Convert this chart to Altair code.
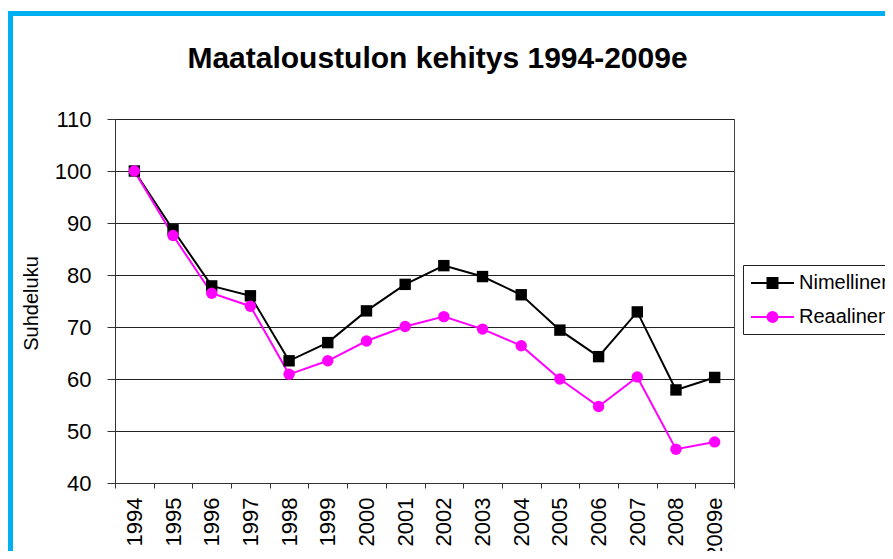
import altair as alt
import pandas as pd

# ---- data ----
years = ["1994", "1995", "1996", "1997", "1998", "1999", "2000", "2001",
         "2002", "2003", "2004", "2005", "2006", "2007", "2008", "2009e"]
nimellinen = [100.0, 88.7, 77.9, 76.0, 63.5, 67.0, 73.1, 78.2,
              81.8, 79.7, 76.2, 69.4, 64.3, 72.9, 57.9, 60.3]
reaalinen = [100.0, 87.6, 76.5, 74.0, 60.9, 63.5, 67.3, 70.1,
             72.0, 69.6, 66.4, 60.0, 54.7, 60.4, 46.5, 47.9]
series_names = ["Nimellinen", "Reaalinen"]
series_colors = ["#000000", "#FF00FF"]
series_shapes = ["square", "circle"]
y_ticks = [40, 50, 60, 70, 80, 90, 100, 110]
title_text = "Maataloustulon kehitys 1994-2009e"
y_title = "Suhdeluku"

FONT = "Liberation Sans"
BLUE = "#00B0F0"

rows = []
for name, vals in zip(series_names, [nimellinen, reaalinen]):
    for yr, v in zip(years, vals):
        rows.append({"year": yr, "value": v, "series": name})
df = pd.DataFrame(rows)

# legend symbols: a short line with the marker in its middle
P_SQ = "M-1,0H3.3M0.65,-0.5H1.65V0.5H0.65Z"
P_CI = "M-1,0H3.3M0.65,0A0.5,0.5,0,1,0,1.65,0A0.5,0.5,0,1,0,0.65,0Z"

legend = alt.Legend(
    orient="none", legendX=628, legendY=146, direction="vertical",
    labelFont=FONT, labelFontSize=20, labelColor="black",
    symbolSize=400, symbolStrokeWidth=2, labelOffset=27, rowPadding=13,
    padding=7, strokeColor="#222222", fillColor="white", cornerRadius=0,
    labelLimit=0, symbolOpacity=1,
)

color_scale = alt.Scale(domain=series_names, range=series_colors)
shape_scale = alt.Scale(domain=series_names, range=series_shapes)
legend_shape_scale = alt.Scale(domain=series_names, range=[P_SQ, P_CI])

x_enc = alt.X(
    "year:O", sort=years,
    scale=alt.Scale(type="band", paddingInner=0, paddingOuter=0),
    axis=alt.Axis(
        title=None, labelAngle=270, labelFont=FONT, labelFontSize=22,
        labelColor="black", labelPadding=9, tickBand="extent", tickSize=5,
        tickColor="#333333", domainColor="#333333", grid=False,
        labelOverlap=False,
    ),
)
y_enc = alt.Y(
    "value:Q",
    scale=alt.Scale(domain=[40, 110], nice=False, zero=False),
    axis=alt.Axis(
        values=y_ticks, title=y_title, titleFont=FONT, titleFontSize=20,
        titleFontWeight="normal", titleColor="black", titleAngle=270,
        titleX=-84, titleY=184, titleAlign="center", titleBaseline="middle",
        labelFont=FONT, labelFontSize=22, labelColor="black", labelPadding=16,
        tickSize=8, tickColor="#333333", domainColor="#333333",
        grid=True, gridColor="#222222", gridWidth=1,
    ),
)

lines = alt.Chart(df).mark_line(strokeWidth=2).encode(
    x=x_enc, y=y_enc,
    color=alt.Color("series:N", scale=color_scale, legend=None),
)
points = alt.Chart(df).mark_point(filled=True, size=130, opacity=1).encode(
    x=x_enc, y=y_enc,
    color=alt.Color("series:N", scale=color_scale, legend=None),
    shape=alt.Shape("series:N", scale=shape_scale, legend=None),
)
# legend-only layer (draws no marks)
legend_layer = alt.Chart(df).transform_filter("false").mark_point().encode(
    x=x_enc, y=y_enc,
    fill=alt.Fill("series:N", scale=color_scale, title=None, legend=legend),
    stroke=alt.Stroke("series:N", scale=color_scale, title=None, legend=legend),
    shape=alt.Shape("series:N", scale=legend_shape_scale, title=None, legend=legend),
)

frame_df = pd.DataFrame({"k": [0]})
left_rule = alt.Chart(frame_df).mark_rule(color=BLUE, strokeWidth=5).encode(
    x=alt.value(-104.5), y=alt.value(-108), y2=alt.value(460)
)
top_rule = alt.Chart(frame_df).mark_rule(color=BLUE, strokeWidth=5).encode(
    x=alt.value(-107), x2=alt.value(790), y=alt.value(-105.5)
)

chart = alt.layer(left_rule, top_rule, lines, points, legend_layer).resolve_scale(
    shape="independent", fill="independent", stroke="independent"
).properties(
    width=619, height=364,
    padding={"left": 107, "top": 111, "right": 151, "bottom": 68},
    autosize=alt.AutoSizeParams(type="none"),
    background="white",
    title=alt.TitleParams(
        text=title_text, font=FONT, fontSize=30, fontWeight="bold",
        color="black", anchor="middle", frame="group", dx=13, dy=89,
        offset=0, baseline="alphabetic",
    ),
).configure(font=FONT).configure_view(stroke="#444444", strokeWidth=1)

chart.save("out.html", embed_options={"renderer": "svg", "actions": False})
